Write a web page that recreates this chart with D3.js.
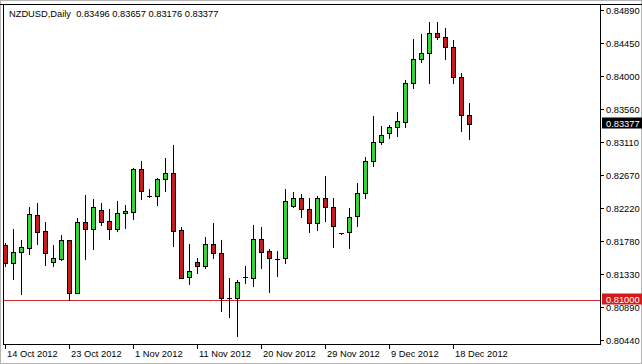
<!DOCTYPE html>
<html>
<head>
<meta charset="utf-8">
<script src="https://cdn.jsdelivr.net/npm/d3@7"></script>
<style>
  body { margin: 0; background: #fff; }
  text { font-family: "Liberation Sans", Arial, sans-serif; font-size: 9.3px; }
</style>
</head>
<body>
<svg id="chart" width="642" height="364"></svg>
<script>
// NZDUSD daily candles, 14 Oct 2012 .. 20 Dec 2012 (bars on Sundays, none on Saturdays)
var opens  = [0.81748,0.81501,0.81650,0.81704,0.82149,0.81937,0.81515,0.81555,0.81816,0.81105,
              0.82054,0.81960,0.82220,0.82072,0.81968,0.82176,0.82197,0.82769,0.82413,0.82413,
              0.82634,0.82715,0.81946,0.81313,0.81515,0.81469,0.81758,0.81636,0.81038,0.81038,
              0.81321,0.81307,0.81829,0.81667,0.81560,0.81569,0.82278,0.82378,0.82234,0.82041,
              0.82378,0.82257,0.81906,0.81920,0.82139,0.82445,0.82885,0.83141,0.83254,0.83335,
              0.83411,0.83929,0.84256,0.84333,0.84603,0.84549,0.84422,0.84010,0.83496];
var highs  = [0.81775,0.81960,0.81816,0.82257,0.82319,0.82062,0.81748,0.81883,0.81816,0.82108,
              0.82422,0.82364,0.82319,0.82230,0.82342,0.82288,0.82782,0.82881,0.82499,0.82656,
              0.82925,0.83097,0.81987,0.81762,0.81569,0.81852,0.82049,0.81816,0.81307,0.81276,
              0.81469,0.82018,0.81995,0.81694,0.81667,0.82503,0.82459,0.82432,0.82386,0.82409,
              0.82679,0.82378,0.81912,0.82243,0.82588,0.82939,0.83488,0.83353,0.83366,0.83538,
              0.83973,0.84522,0.84589,0.84751,0.84751,0.84670,0.84512,0.84063,0.83657];
var lows   = [0.81465,0.81286,0.81084,0.81623,0.81758,0.81479,0.81469,0.81546,0.81005,0.81100,
              0.81555,0.81694,0.82018,0.81825,0.81941,0.81982,0.82099,0.82369,0.82391,0.82288,
              0.82480,0.81735,0.81299,0.81222,0.81375,0.81434,0.81569,0.80862,0.80781,0.80521,
              0.81240,0.81199,0.81442,0.81119,0.81334,0.81510,0.82265,0.82130,0.81928,0.81951,
              0.82076,0.81725,0.81900,0.81704,0.82009,0.82378,0.82818,0.83106,0.83187,0.83222,
              0.83343,0.83861,0.84212,0.83937,0.84522,0.84252,0.83937,0.83290,0.83176];
var closes = [0.81506,0.81650,0.81717,0.82162,0.81928,0.81636,0.81569,0.81816,0.81105,0.82054,
              0.81960,0.82257,0.82062,0.81960,0.82176,0.82207,0.82769,0.82480,0.82413,0.82634,
              0.82715,0.81941,0.81307,0.81402,0.81469,0.81758,0.81636,0.81030,0.81038,0.81245,
              0.81321,0.81829,0.81658,0.81569,0.81560,0.82342,0.82378,0.82230,0.82041,0.82378,
              0.82257,0.82004,0.81906,0.82130,0.82445,0.82885,0.83141,0.83232,0.83335,0.83420,
              0.83929,0.84256,0.84333,0.84603,0.84549,0.84422,0.84010,0.83501,0.83377];

var yTickLabels = ["0.84890","0.84450","0.84000","0.83560","0.83110","0.82670",
                   "0.82220","0.81780","0.81330","0.80890","0.80440"];
var xTickLabels = ["14 Oct 2012","23 Oct 2012","1 Nov 2012","11 Nov 2012",
                   "20 Nov 2012","29 Nov 2012","9 Dec 2012","18 Dec 2012"];
var levelLine = 0.81000;
var header = "NZDUSD,Daily  0.83496 0.83657 0.83176 0.83377";

var dates = d3.timeDay.range(new Date(2012, 9, 14), new Date(2012, 11, 21))
    .filter(d => d.getDay() !== 6);
var fmt = d3.timeFormat("%-d %b %Y");

var svg = d3.select("#chart");
var W = 642, H = 364;
var plot = {left: 4, top: 4, right: 600, bottom: 344};

var x = d3.scaleLinear().domain([0, dates.length - 1]).range([5, 5 + 8 * (dates.length - 1)]);
var y = d3.scaleLinear().domain([0.80440, 0.84890]).range([342, 12]);
var py = v => Math.round(y(v)) + 0.5;

var bull = "#33d633", bear = "#c41c1c";

svg.append("rect").attr("width", W).attr("height", H).attr("fill", "#fff");

// window edges
svg.append("rect")
    .attr("x", 0.5).attr("y", 0.5).attr("width", W - 1).attr("height", H - 1)
    .attr("fill", "none").attr("stroke", "#b4b4b4");

svg.append("defs").append("clipPath").attr("id", "clip")
  .append("rect")
    .attr("x", plot.left).attr("y", plot.top)
    .attr("width", plot.right - plot.left).attr("height", plot.bottom - plot.top);

// level line
svg.append("line")
    .attr("x1", plot.left).attr("x2", plot.right)
    .attr("y1", py(levelLine)).attr("y2", py(levelLine))
    .attr("stroke", "#cc2b2b").attr("stroke-width", 1);

var candles = svg.append("g").attr("clip-path", "url(#clip)");
var idx = d3.range(dates.length);

candles.selectAll("line.wick")
  .data(idx)
  .join("line")
    .attr("class", "wick")
    .attr("x1", i => x(i) + 0.5).attr("x2", i => x(i) + 0.5)
    .attr("y1", i => Math.round(y(highs[i])))
    .attr("y2", i => Math.round(y(lows[i])) + 1)
    .attr("stroke", "#000");

candles.selectAll("rect.body")
  .data(idx.filter(i => Math.round(y(opens[i])) !== Math.round(y(closes[i]))))
  .join("rect")
    .attr("class", "body")
    .attr("x", i => x(i) - 1.5)
    .attr("width", 4)
    .attr("y", i => py(Math.max(opens[i], closes[i])))
    .attr("height", i => Math.abs(py(opens[i]) - py(closes[i])))
    .attr("fill", i => closes[i] >= opens[i] ? bull : bear)
    .attr("stroke", "#000");

candles.selectAll("line.doji")
  .data(idx.filter(i => Math.round(y(opens[i])) === Math.round(y(closes[i]))))
  .join("line")
    .attr("class", "doji")
    .attr("x1", i => x(i) - 2).attr("x2", i => x(i) + 3)
    .attr("y1", i => py(opens[i])).attr("y2", i => py(opens[i]))
    .attr("stroke", "#000");

// frame
svg.append("line").attr("x1", 0).attr("x2", W).attr("y1", 4.5).attr("y2", 4.5).attr("stroke", "#000");
svg.append("line").attr("x1", 3.5).attr("x2", 3.5).attr("y1", 4).attr("y2", plot.bottom + 1).attr("stroke", "#000");
svg.append("line").attr("x1", plot.right + 0.5).attr("x2", plot.right + 0.5).attr("y1", 4).attr("y2", plot.bottom + 1).attr("stroke", "#000");
svg.append("line").attr("x1", 3.5).attr("x2", plot.right + 0.5).attr("y1", plot.bottom + 0.5).attr("y2", plot.bottom + 0.5).attr("stroke", "#000");

// price axis
var yAxis = svg.append("g");
yTickLabels.forEach(function(t) {
  var yy = Math.round(y(+t)) - 2 + 0.5;
  yAxis.append("line").attr("x1", plot.right + 1).attr("x2", plot.right + 4)
      .attr("y1", yy).attr("y2", yy).attr("stroke", "#000");
  yAxis.append("text").attr("x", 606).attr("y", yy).attr("dy", "0.35em")
      .attr("fill", "#000").text(t);
});

function priceBox(v, fill) {
  var yy = Math.round(y(v)) - 1;
  svg.append("rect").attr("x", 602).attr("y", yy - 5.5).attr("width", 40).attr("height", 11)
      .attr("fill", fill);
  svg.append("text").attr("x", 606).attr("y", yy + 0.5).attr("dy", "0.35em")
      .attr("fill", "#fff").text(v.toFixed(5));
}
priceBox(levelLine, "#d41a1a");
priceBox(closes[closes.length - 1], "#000");

// time axis
var xAxis = svg.append("g");
xTickLabels.forEach(function(t) {
  var i = dates.findIndex(d => fmt(d) === t);
  var xx = x(i) + 0.5;
  xAxis.append("line").attr("x1", xx).attr("x2", xx)
      .attr("y1", plot.bottom).attr("y2", plot.bottom + 5).attr("stroke", "#000");
  xAxis.append("text").attr("x", xx + 1.5).attr("y", 354).attr("dy", "0.35em")
      .attr("fill", "#000").text(t);
});

svg.append("text").attr("x", 9).attr("y", 13.5).attr("dy", "0.35em")
    .style("white-space", "pre").attr("fill", "#000").text(header);
</script>
</body>
</html>
